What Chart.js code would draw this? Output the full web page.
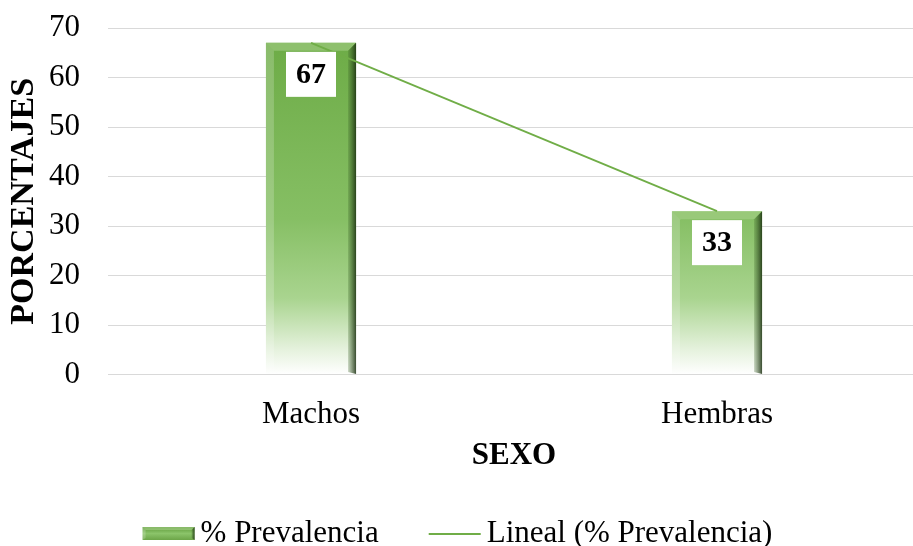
<!DOCTYPE html>
<html>
<head>
<meta charset="utf-8">
<script src="https://cdn.jsdelivr.net/npm/chart.js@4.4.1/dist/chart.umd.min.js"></script>
<style>
  html, body { margin: 0; padding: 0; background: #fff; overflow: hidden; }
  #wrap { width: 913px; height: 546px; overflow: hidden; }
</style>
</head>
<body>
<div id="wrap"><canvas id="prevChart" width="920" height="546"></canvas></div>
<script>
var categorias = ["Machos", "Hembras"];
var prevalencia = [67, 33];
var yTicks = [0, 10, 20, 30, 40, 50, 60, 70];

// linear trend through the bar values (least squares on x = 1..n)
function tendencia(vals) {
    var n = vals.length, sx = 0, sy = 0, sxy = 0, sxx = 0;
    for (var i = 0; i < n; i++) {
        var x = i + 1;
        sx += x; sy += vals[i]; sxy += x * vals[i]; sxx += x * x;
    }
    var m = (n * sxy - sx * sy) / (n * sxx - sx * sx);
    var b = (sy - m * sx) / n;
    return vals.map(function (v, i) { return m * (i + 1) + b; });
}

var fuente = "'Liberation Serif', 'Times New Roman', serif";
var verde = "#70AD47";
var tamLetra = 31;

function rellenoBarra(context) {
    var chart = context.chart;
    var area = chart.chartArea;
    if (!area) return verde;
    var el = context.element;
    var top = el && el.y !== undefined ? el.y : area.top;
    var g = chart.ctx.createLinearGradient(0, top, 0, area.bottom);
    g.addColorStop(0, "#6BAA44");
    g.addColorStop(0.55, "#86BF64");
    g.addColorStop(0.78, "#A9D48F");
    g.addColorStop(0.93, "#E6F2DE");
    g.addColorStop(1, "#FFFFFF");
    return g;
}

// bevel faces drawn on a bar rectangle
function bisel(ctx, l, r, t, b, d) {
    ctx.save();
    ctx.beginPath();
    ctx.moveTo(l, t); ctx.lineTo(r, t); ctx.lineTo(r - d, t + d); ctx.lineTo(l + d, t + d);
    ctx.closePath();
    ctx.fillStyle = "rgba(170, 210, 140, 0.55)";
    ctx.fill();
    // right face: darker toward the outer edge
    var gr = ctx.createLinearGradient(r - d, 0, r, 0);
    gr.addColorStop(0, "rgba(60, 100, 40, 0.25)");
    gr.addColorStop(1, "rgba(25, 45, 15, 0.85)");
    ctx.beginPath();
    ctx.moveTo(r, t); ctx.lineTo(r, b); ctx.lineTo(r - d, b - Math.min(d, 2)); ctx.lineTo(r - d, t + d);
    ctx.closePath();
    ctx.fillStyle = gr;
    ctx.fill();
    ctx.beginPath();
    ctx.moveTo(l, t); ctx.lineTo(l + d, t + d); ctx.lineTo(l + d, b - Math.min(d, 2)); ctx.lineTo(l, b);
    ctx.closePath();
    ctx.fillStyle = "rgba(255, 255, 255, 0.2)";
    ctx.fill();
    ctx.restore();
}

var biselPlugin = {
    id: "bisel",
    afterDatasetDraw: function (chart, args) {
        if (args.index !== 0) return;
        chart.getDatasetMeta(0).data.forEach(function (bar) {
            bisel(chart.ctx, bar.x - bar.width / 2, bar.x + bar.width / 2, bar.y, bar.base, 8);
        });
    }
};

// white value boxes near the top of each bar
var etiquetasPlugin = {
    id: "etiquetas",
    afterDatasetsDraw: function (chart) {
        var ctx = chart.ctx;
        var ds = chart.data.datasets[0];
        chart.getDatasetMeta(0).data.forEach(function (bar, i) {
            var w = 50, h = 45;
            var x = bar.x - w / 2, y = bar.y + 9;
            ctx.save();
            ctx.fillStyle = "#FFFFFF";
            ctx.fillRect(x, y, w, h);
            ctx.fillStyle = "#000000";
            ctx.font = "bold 30px " + fuente;
            ctx.textAlign = "center";
            ctx.textBaseline = "middle";
            ctx.fillText(String(ds.data[i]), x + w / 2, y + h / 2 + 1);
            ctx.restore();
        });
    }
};

// legend row under the axis title
var leyendaPlugin = {
    id: "leyenda",
    afterDraw: function (chart) {
        var ctx = chart.ctx;
        var ds = chart.data.datasets;
        var sw = 52, gap = 6, sep = 50, cy = 533, centro = 457.5;
        ctx.save();
        ctx.font = tamLetra + "px " + fuente;
        var w0 = ctx.measureText(ds[0].label).width;
        var w1 = ctx.measureText(ds[1].label).width;
        var total = sw + gap + w0 + sep + sw + gap + w1;
        var x = centro - total / 2;
        // bar swatch
        var g = ctx.createLinearGradient(0, cy - 6, 0, cy + 7);
        g.addColorStop(0, "#5E9A3A");
        g.addColorStop(0.5, "#8BC46A");
        g.addColorStop(1, "#6CA548");
        ctx.fillStyle = g;
        ctx.fillRect(x, cy - 6, sw, 13);
        bisel(ctx, x, x + sw, cy - 6, cy + 7, 3);
        ctx.fillStyle = "#000";
        ctx.textBaseline = "middle";
        ctx.fillText(ds[0].label, x + sw + gap, cy + 1);
        x += sw + gap + w0 + sep;
        // trend swatch
        ctx.strokeStyle = verde;
        ctx.lineWidth = 2;
        ctx.beginPath();
        ctx.moveTo(x, cy + 1);
        ctx.lineTo(x + sw, cy + 1);
        ctx.stroke();
        ctx.fillText(ds[1].label, x + sw + gap, cy + 1);
        ctx.restore();
    }
};

new Chart(document.getElementById("prevChart").getContext("2d"), {
    data: {
        labels: categorias,
        datasets: [
            {
                type: "bar",
                label: "% Prevalencia",
                data: prevalencia,
                backgroundColor: rellenoBarra,
                borderWidth: 0,
                barPercentage: 0.444,
                categoryPercentage: 0.5,
                order: 2
            },
            {
                type: "line",
                label: "Lineal (% Prevalencia)",
                data: tendencia(prevalencia),
                borderColor: verde,
                borderWidth: 1.8,
                pointRadius: 0,
                fill: false,
                order: 1
            }
        ]
    },
    options: {
        responsive: false,
        animation: false,
        layout: { padding: { top: 0, right: 0, left: 4, bottom: 71 } },
        scales: {
            x: {
                grid: { display: false, drawTicks: false },
                border: { display: false },
                ticks: { color: "#000", font: { family: fuente, size: tamLetra }, padding: 22 },
                afterFit: function (axis) { axis.height = 100.5; },
                title: {
                    display: true,
                    text: "SEXO",
                    color: "#000",
                    font: { family: fuente, size: tamLetra, weight: "bold" },
                    padding: { top: 0, bottom: 0 }
                }
            },
            y: {
                min: 0,
                max: 70,
                afterBuildTicks: function (axis) {
                    axis.ticks = yTicks.map(function (v) { return { value: v }; });
                },
                afterFit: function (axis) {
                    axis.width = 104;
                    axis.paddingTop = 28;
                    axis.paddingBottom = 0;
                },
                grid: { color: "#D9D9D9", lineWidth: 1, drawTicks: false },
                border: { display: false },
                ticks: { color: "#000", font: { family: fuente, size: tamLetra }, padding: 28 },
                title: {
                    display: true,
                    text: "PORCENTAJES",
                    color: "#000",
                    font: { family: fuente, size: 34, weight: "bold" },
                    padding: { top: 0, bottom: 4 }
                }
            }
        },
        plugins: {
            tooltip: { enabled: false },
            legend: { display: false }
        }
    },
    plugins: [biselPlugin, etiquetasPlugin, leyendaPlugin]
});
</script>
</body>
</html>
